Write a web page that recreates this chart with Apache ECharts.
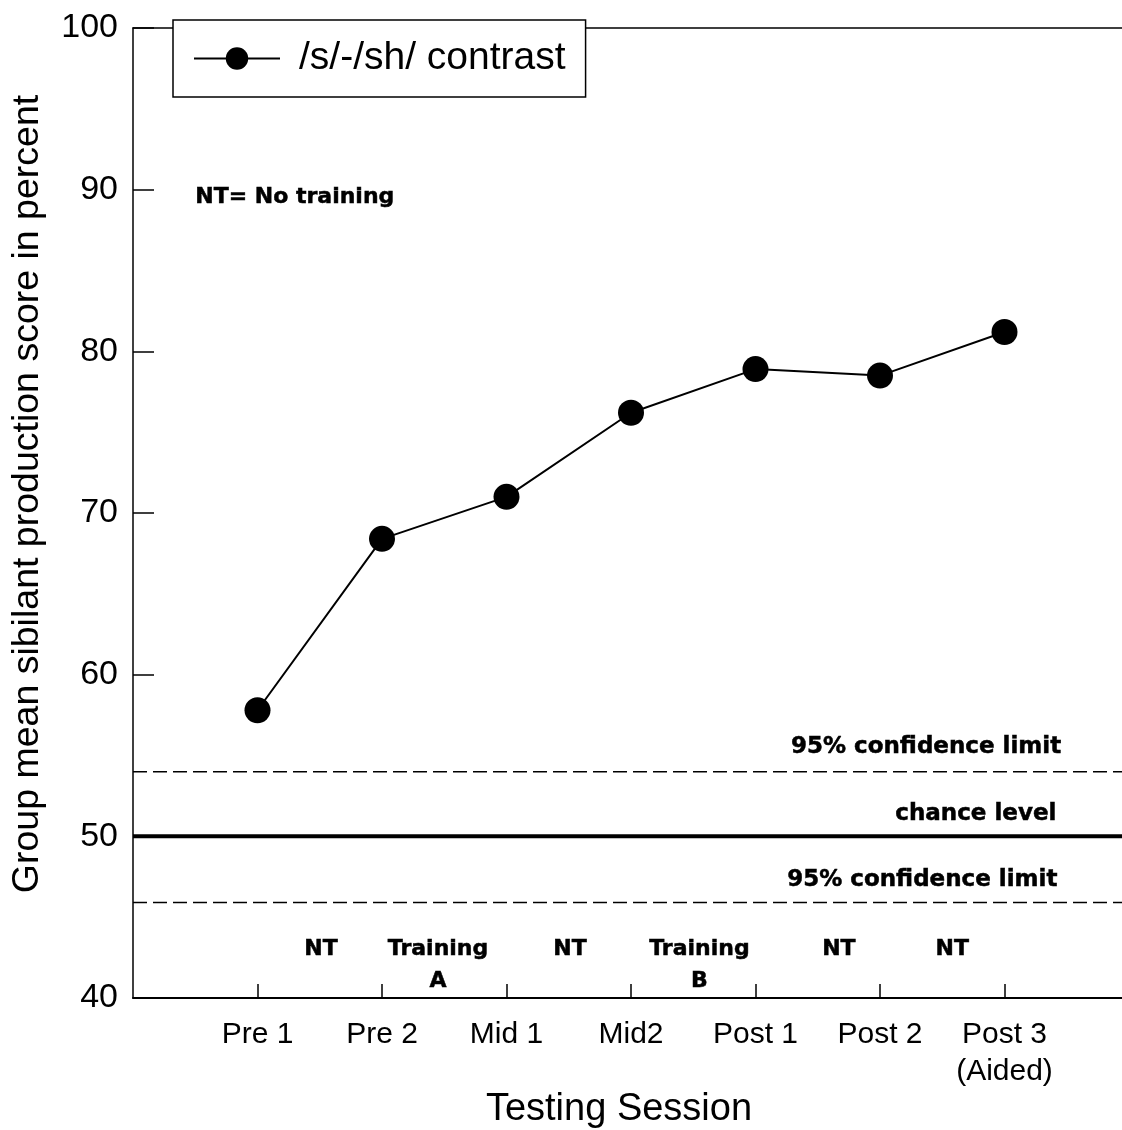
<!DOCTYPE html>
<html>
<head>
<meta charset="utf-8">
<script src="https://cdn.jsdelivr.net/npm/echarts@6/dist/echarts.min.js"></script>
<style>
  html, body { margin: 0; padding: 0; background: #fff; }
  #chart { width: 1122px; height: 1130px; }
</style>
</head>
<body>
<div id="chart"></div>
<script>
// Testing sessions along the x axis (positions 1..7)
const sessions = ['Pre 1', 'Pre 2', 'Mid 1', 'Mid2', 'Post 1', 'Post 2', 'Post 3\n(Aided)'];
// Group mean /s/-/sh/ production score (%)
const scores = [57.8, 68.4, 71.0, 76.2, 78.9, 78.5, 81.2];
// Reference levels
const chanceLevel = 50;
const upperLimit = 54.0;
const lowerLimit = 45.9;
// Phase labels placed between sessions: [x, y, text]
const phaseLabels = [
  [1.51, 43.0, 'NT'],
  [2.45, 42.0, 'Training\nA'],
  [3.51, 43.0, 'NT'],
  [4.55, 42.0, 'Training\nB'],
  [5.67, 43.0, 'NT'],
  [6.58, 43.0, 'NT']
];
// Captions of the reference lines: [x, y, text]
const lineCaptions = [
  [6.37, 55.5, '95% confidence limit'],
  [6.77, 51.4, 'chance level'],
  [6.34, 47.3, '95% confidence limit']
];
const yTicks = [40, 50, 60, 70, 80, 90, 100];

const FONT = '"Liberation Sans", Arial, sans-serif';
const BOLD = '"DejaVu Sans", "Liberation Sans", sans-serif';
const chart = echarts.init(document.getElementById('chart'), null, { renderer: 'canvas' });

const refLine = (y, type, width) => ({
  type: 'line',
  silent: true,
  symbol: 'none',
  lineStyle: { color: '#000', width: width, type: type },
  data: [[0, y], [8, y]],
  z: 1
});

const boldLabel = (size, extra) => Object.assign({
  show: true, position: 'inside',
  formatter: p => p.value[2],
  fontFamily: BOLD, fontWeight: 'bold', fontSize: size, color: '#000',
  textBorderColor: '#000', textBorderWidth: 0.5
}, extra || {});

// Text-only scatter: invisible symbols, fully opaque labels
const textSeries = (data, label) => ({
  type: 'scatter', silent: true, symbolSize: 0,
  itemStyle: { opacity: 1, color: '#000' },
  data: data, label: label, z: 6
});

chart.setOption({
  animation: false,
  backgroundColor: '#fff',
  grid: { left: 133, right: -7, top: 28, bottom: 132, outerBoundsMode: 'none', containLabel: false },
  legend: {
    left: 173, top: 20,
    padding: [19, 20, 19, 20],
    backgroundColor: '#fff',
    borderColor: '#000', borderWidth: 1.5, borderRadius: 0,
    itemWidth: 86, itemHeight: 28, itemGap: 10,
    textStyle: { fontFamily: FONT, fontSize: 39, color: '#000', padding: [0, 0, 0, 14] },
    data: ['/s/-/sh/ contrast'],
    z: 10
  },
  xAxis: [{
    type: 'value', min: 0, max: 8, interval: 1,
    name: 'Testing Session', nameLocation: 'middle', nameGap: 93, nameMoveOverlap: false,
    nameTextStyle: { fontFamily: FONT, fontSize: 38, color: '#000', padding: [0, 24, 0, 0] },
    axisLine: { lineStyle: { color: '#000', width: 2 } },
    axisTick: { inside: true, length: 14, customValues: [1, 2, 3, 4, 5, 6, 7], lineStyle: { color: '#000', width: 1.5 } },
    axisLabel: {
      customValues: [1, 2, 3, 4, 5, 6, 7],
      formatter: v => sessions[v - 1] || '',
      fontFamily: FONT, fontSize: 30, color: '#000', margin: 18, lineHeight: 37
    },
    splitLine: { show: false }
  }, {
    type: 'value', position: 'top', min: 0, max: 8,
    axisLine: { show: true, lineStyle: { color: '#000', width: 1.5 } },
    axisTick: { show: false }, axisLabel: { show: false }, splitLine: { show: false }
  }],
  yAxis: {
    type: 'value', min: 40, max: 100, interval: 10,
    name: 'Group mean sibilant production score in percent',
    nameLocation: 'middle', nameGap: 86, nameRotate: 90, nameMoveOverlap: false,
    nameTextStyle: { fontFamily: FONT, fontSize: 37.5, color: '#000', padding: [0, 0, 0, 38] },
    axisLine: { show: true, lineStyle: { color: '#000', width: 1.5 } },
    axisTick: { show: true, inside: true, length: 21, lineStyle: { color: '#000', width: 1.5 } },
    axisLabel: {
      customValues: yTicks,
      fontFamily: FONT, fontSize: 34, color: '#000', margin: 15
    },
    splitLine: { show: false }
  },
  series: [
    refLine(upperLimit, [14, 6], 1.5),
    refLine(chanceLevel, 'solid', 4),
    refLine(lowerLimit, [14, 6], 1.5),
    {
      name: '/s/-/sh/ contrast',
      type: 'line',
      symbol: 'circle', symbolSize: 26,
      itemStyle: { color: '#000' },
      lineStyle: { color: '#000', width: 2 },
      data: scores.map((s, i) => [i + 1, s]),
      z: 5
    },
    // Phase annotations between the sessions
    textSeries(phaseLabels, boldLabel(22, { lineHeight: 32 })),
    // Captions above the confidence / chance lines
    textSeries(lineCaptions, boldLabel(23)),
    textSeries([[0.5, 89.5, 'NT= No training']], boldLabel(22, { position: 'right', distance: 0 }))
  ]
});
</script>
</body>
</html>
